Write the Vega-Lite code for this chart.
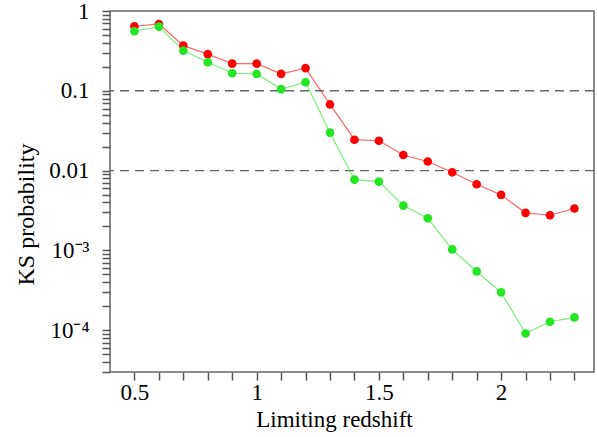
{
  "$schema": "https://vega.github.io/schema/vega-lite/v6.json",
  "width": 484,
  "height": 361,
  "autosize": "none",
  "padding": {"left": 110, "top": 11, "right": 3, "bottom": 65},
  "config": {
    "view": {"stroke": "#666", "strokeWidth": 1.5},
    "font": "Liberation Serif",
    "axis": {
      "domain": false,
      "grid": false,
      "ticks": true,
      "tickColor": "#555",
      "tickWidth": 1.5,
      "labelFont": "Liberation Serif",
      "labelFontSize": 23,
      "labelColor": "#000",
      "labelOverlap": false,
      "labelFlush": false,
      "titleFont": "Liberation Serif",
      "titleFontSize": 23,
      "titleFontWeight": "normal",
      "titleColor": "#000"
    }
  },
  "datasets": {
    "ks": [
      {"z": 0.5, "p": 0.644, "s": "r"},
      {"z": 0.6, "p": 0.688, "s": "r"},
      {"z": 0.7, "p": 0.368, "s": "r"},
      {"z": 0.8, "p": 0.288, "s": "r"},
      {"z": 0.9, "p": 0.219, "s": "r"},
      {"z": 1.0, "p": 0.219, "s": "r"},
      {"z": 1.1, "p": 0.163, "s": "r"},
      {"z": 1.2, "p": 0.192, "s": "r"},
      {"z": 1.3, "p": 0.0675, "s": "r"},
      {"z": 1.4, "p": 0.0244, "s": "r"},
      {"z": 1.5, "p": 0.0237, "s": "r"},
      {"z": 1.6, "p": 0.0157, "s": "r"},
      {"z": 1.7, "p": 0.013, "s": "r"},
      {"z": 1.8, "p": 0.00953, "s": "r"},
      {"z": 1.9, "p": 0.00675, "s": "r"},
      {"z": 2.0, "p": 0.00497, "s": "r"},
      {"z": 2.1, "p": 0.00296, "s": "r"},
      {"z": 2.2, "p": 0.00276, "s": "r"},
      {"z": 2.3, "p": 0.00335, "s": "r"},
      {"z": 0.5, "p": 0.557, "s": "g"},
      {"z": 0.6, "p": 0.637, "s": "g"},
      {"z": 0.7, "p": 0.319, "s": "g"},
      {"z": 0.8, "p": 0.228, "s": "g"},
      {"z": 0.9, "p": 0.166, "s": "g"},
      {"z": 1.0, "p": 0.163, "s": "g"},
      {"z": 1.1, "p": 0.105, "s": "g"},
      {"z": 1.2, "p": 0.128, "s": "g"},
      {"z": 1.3, "p": 0.0299, "s": "g"},
      {"z": 1.4, "p": 0.00772, "s": "g"},
      {"z": 1.5, "p": 0.00729, "s": "g"},
      {"z": 1.6, "p": 0.00365, "s": "g"},
      {"z": 1.7, "p": 0.00253, "s": "g"},
      {"z": 1.8, "p": 0.00103, "s": "g"},
      {"z": 1.9, "p": 0.000546, "s": "g"},
      {"z": 2.0, "p": 0.000299, "s": "g"},
      {"z": 2.1, "p": 0.000091, "s": "g"},
      {"z": 2.2, "p": 0.000128, "s": "g"},
      {"z": 2.3, "p": 0.000145, "s": "g"}
    ],
    "ref": [{"p": 0.1}, {"p": 0.01}]
  },
  "layer": [
    {
      "data": {"name": "ref"},
      "mark": {"type": "rule", "color": "#666", "strokeWidth": 1.4, "strokeDash": [9, 6]},
      "encoding": {
        "y": {"field": "p", "type": "quantitative", "scale": {"type": "log", "domain": [0.00003, 1], "nice": false}, "axis": null}
      }
    },
    {
      "data": {"name": "ks"},
      "mark": {"type": "line", "strokeWidth": 1.2, "opacity": 0.6},
      "encoding": {
        "x": {"field": "z", "type": "quantitative", "scale": {"domain": [0.4, 2.38], "nice": false, "zero": false}, "axis": null},
        "y": {"field": "p", "type": "quantitative", "scale": {"type": "log", "domain": [0.00003, 1], "nice": false}, "axis": null},
        "color": {"field": "s", "type": "nominal", "scale": {"domain": ["r", "g"], "range": ["#ff0000", "#22e622"]}, "legend": null}
      }
    },
    {
      "data": {"name": "ks"},
      "mark": {"type": "circle", "size": 75, "opacity": 1},
      "encoding": {
        "x": {"field": "z", "type": "quantitative", "scale": {"domain": [0.4, 2.38], "nice": false, "zero": false},
          "axis": {"orient": "bottom", "title": "Limiting redshift", "titlePadding": 4, "titleX": 224,
            "values": [0.5, 0.6, 0.7, 0.8, 0.9, 1, 1.1, 1.2, 1.3, 1.4, 1.5, 1.6, 1.7, 1.8, 1.9, 2, 2.1, 2.2, 2.3],
            "labelExpr": "datum.value == 0.5 ? '0.5' : datum.value == 1 ? '1' : datum.value == 1.5 ? '1.5' : datum.value == 2 ? '2' : ''",
            "tickSize": 8, "labelPadding": 1}},
        "y": {"field": "p", "type": "quantitative", "scale": {"type": "log", "domain": [0.00003, 1], "nice": false},
          "axis": {"orient": "left", "title": "KS probability", "titlePadding": 10, "titleY": 203, "titleFontSize": 24,
            "values": [0.00003, 0.00004, 0.00005, 0.00006, 0.00007, 0.00008, 0.00009, 0.0001, 0.0002, 0.0003, 0.0004, 0.0005, 0.0006, 0.0007, 0.0008, 0.0009, 0.001, 0.002, 0.003, 0.004, 0.005, 0.006, 0.007, 0.008, 0.009, 0.01, 0.02, 0.03, 0.04, 0.05, 0.06, 0.07, 0.08, 0.09, 0.1, 0.2, 0.3, 0.4, 0.5, 0.6, 0.7, 0.8, 0.9, 1],
            "labelExpr": "datum.value == 1 ? '1' : datum.value == 0.1 ? '0.1' : datum.value == 0.01 ? '0.01' : datum.value == 0.001 ? '10⁻³' : datum.value == 0.0001 ? '10⁻⁴' : ''",
            "tickSize": 8, "labelPadding": 13}},
        "color": {"field": "s", "type": "nominal", "scale": {"domain": ["r", "g"], "range": ["#ff0000", "#22e622"]}, "legend": null}
      }
    }
  ],
  "resolve": {"axis": {"x": "independent", "y": "independent"}}
}
